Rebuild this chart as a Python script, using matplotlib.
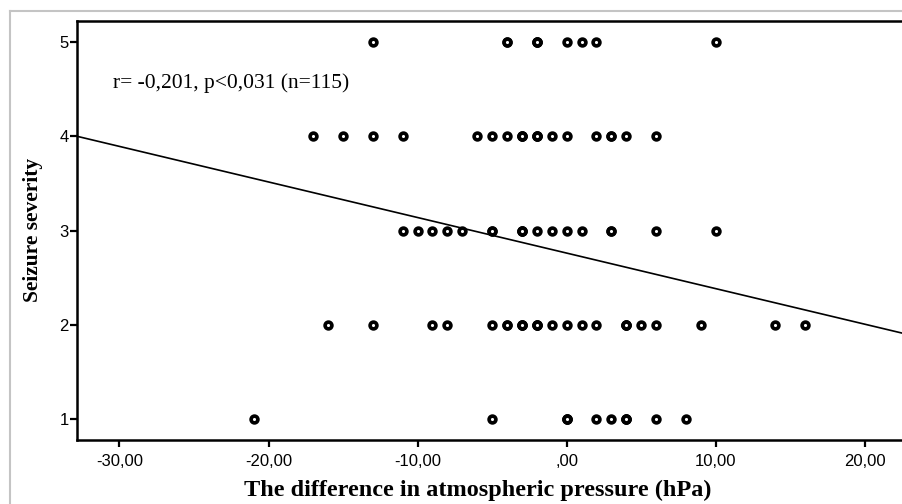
import matplotlib
matplotlib.use("Agg")
import matplotlib.pyplot as plt
from matplotlib.lines import Line2D

# pressure difference (hPa) for each seizure-severity row, repeated values = overlapping points
sev5 = [-13, -4, -4, -2, -2, -2, 0, 1, 2, 10]
sev4 = [-17, -15, -13, -11, -6, -5, -4, -3, -3, -3, -2, -2, -2, -1, 0, 2, 3, 3, 4, 6]
sev3 = [-11, -10, -9, -8, -7, -5, -5, -3, -3, -3, -2, -1, 0, 1, 3, 3, 6, 10]
sev2 = [-16, -13, -9, -8, -5, -4, -4, -3, -3, -3, -2, -2, -2, -1, 0, 1, 2,
        4, 4, 4, 5, 6, 9, 14, 16]
sev1 = [-21, -5, 0, 0, 0, 2, 3, 4, 4, 4, 6, 8]
severity_rows = {5: sev5, 4: sev4, 3: sev3, 2: sev2, 1: sev1}

# linear fit
fit_intercept = 2.762
fit_slope = -0.0377

xticks = [-30, -20, -10, 0, 10, 20]
xtick_labels = ["-30,00", "-20,00", "-10,00", ",00", "10,00", "20,00"]
yticks = [1, 2, 3, 4, 5]
annotation = "r= -0,201, p<0,031 (n=115)"

W, H = 902, 504
fig = plt.figure(figsize=(W / 100, H / 100), dpi=100)
fig.patch.set_facecolor("white")

# light grey frame of the screenshot (left and top)
fig.add_artist(Line2D([9.5 / W, 9.5 / W], [0, 1 - 11 / H], transform=fig.transFigure,
                      color="#c4c4c4", lw=1.5))
fig.add_artist(Line2D([9.5 / W, 1], [1 - 11 / H, 1 - 11 / H], transform=fig.transFigure,
                      color="#c4c4c4", lw=1.5))

left, right, top, bottom = 77, 902, 20.7, 440
ax = fig.add_axes([left / W, 1 - bottom / H, (right - left) / W, (bottom - top) / H])

for sev, xs in severity_rows.items():
    ax.plot(xs, [sev] * len(xs), linestyle="none", marker="o", ms=4.9,
            mfc="white", mec="black", mew=2.6, zorder=3)

ax.axline((0, fit_intercept), slope=fit_slope, color="black", lw=1.2, zorder=2)

ax.set_xlim(-32.85, 22.5)
ax.set_ylim(0.78, 5.226)

ax.set_xticks(xticks)
ax.set_xticklabels(xtick_labels)
ax.set_yticks(yticks)
ax.tick_params(direction="out", length=5, width=1.6, colors="black",
               labelsize=12, pad=5)
ax.tick_params(axis="y", pad=1)
for lab in ax.get_xticklabels() + ax.get_yticklabels():
    lab.set_family("Liberation Sans")

for side in ["left", "bottom", "top"]:
    ax.spines[side].set_linewidth(1.8)
    ax.spines[side].set_color("black")
ax.spines["right"].set_visible(False)

ax.set_xlabel("The difference in atmospheric pressure (hPa)", family="Liberation Serif",
              fontweight="bold", fontsize=17.5)
ax.xaxis.set_label_coords((478 - left) / (right - left), -(480 - bottom) / (bottom - top))
ax.set_ylabel("Seizure severity", family="Liberation Serif", fontweight="bold", fontsize=15.5)
ax.yaxis.set_label_coords(-(left - 43) / (right - left), 0.5)

ax.text(-32.85 + (113 - left) / 14.9, 4.565, annotation, family="Liberation Serif",
        fontsize=15.5, va="center", ha="left")

fig.savefig("out.png", dpi=100)
